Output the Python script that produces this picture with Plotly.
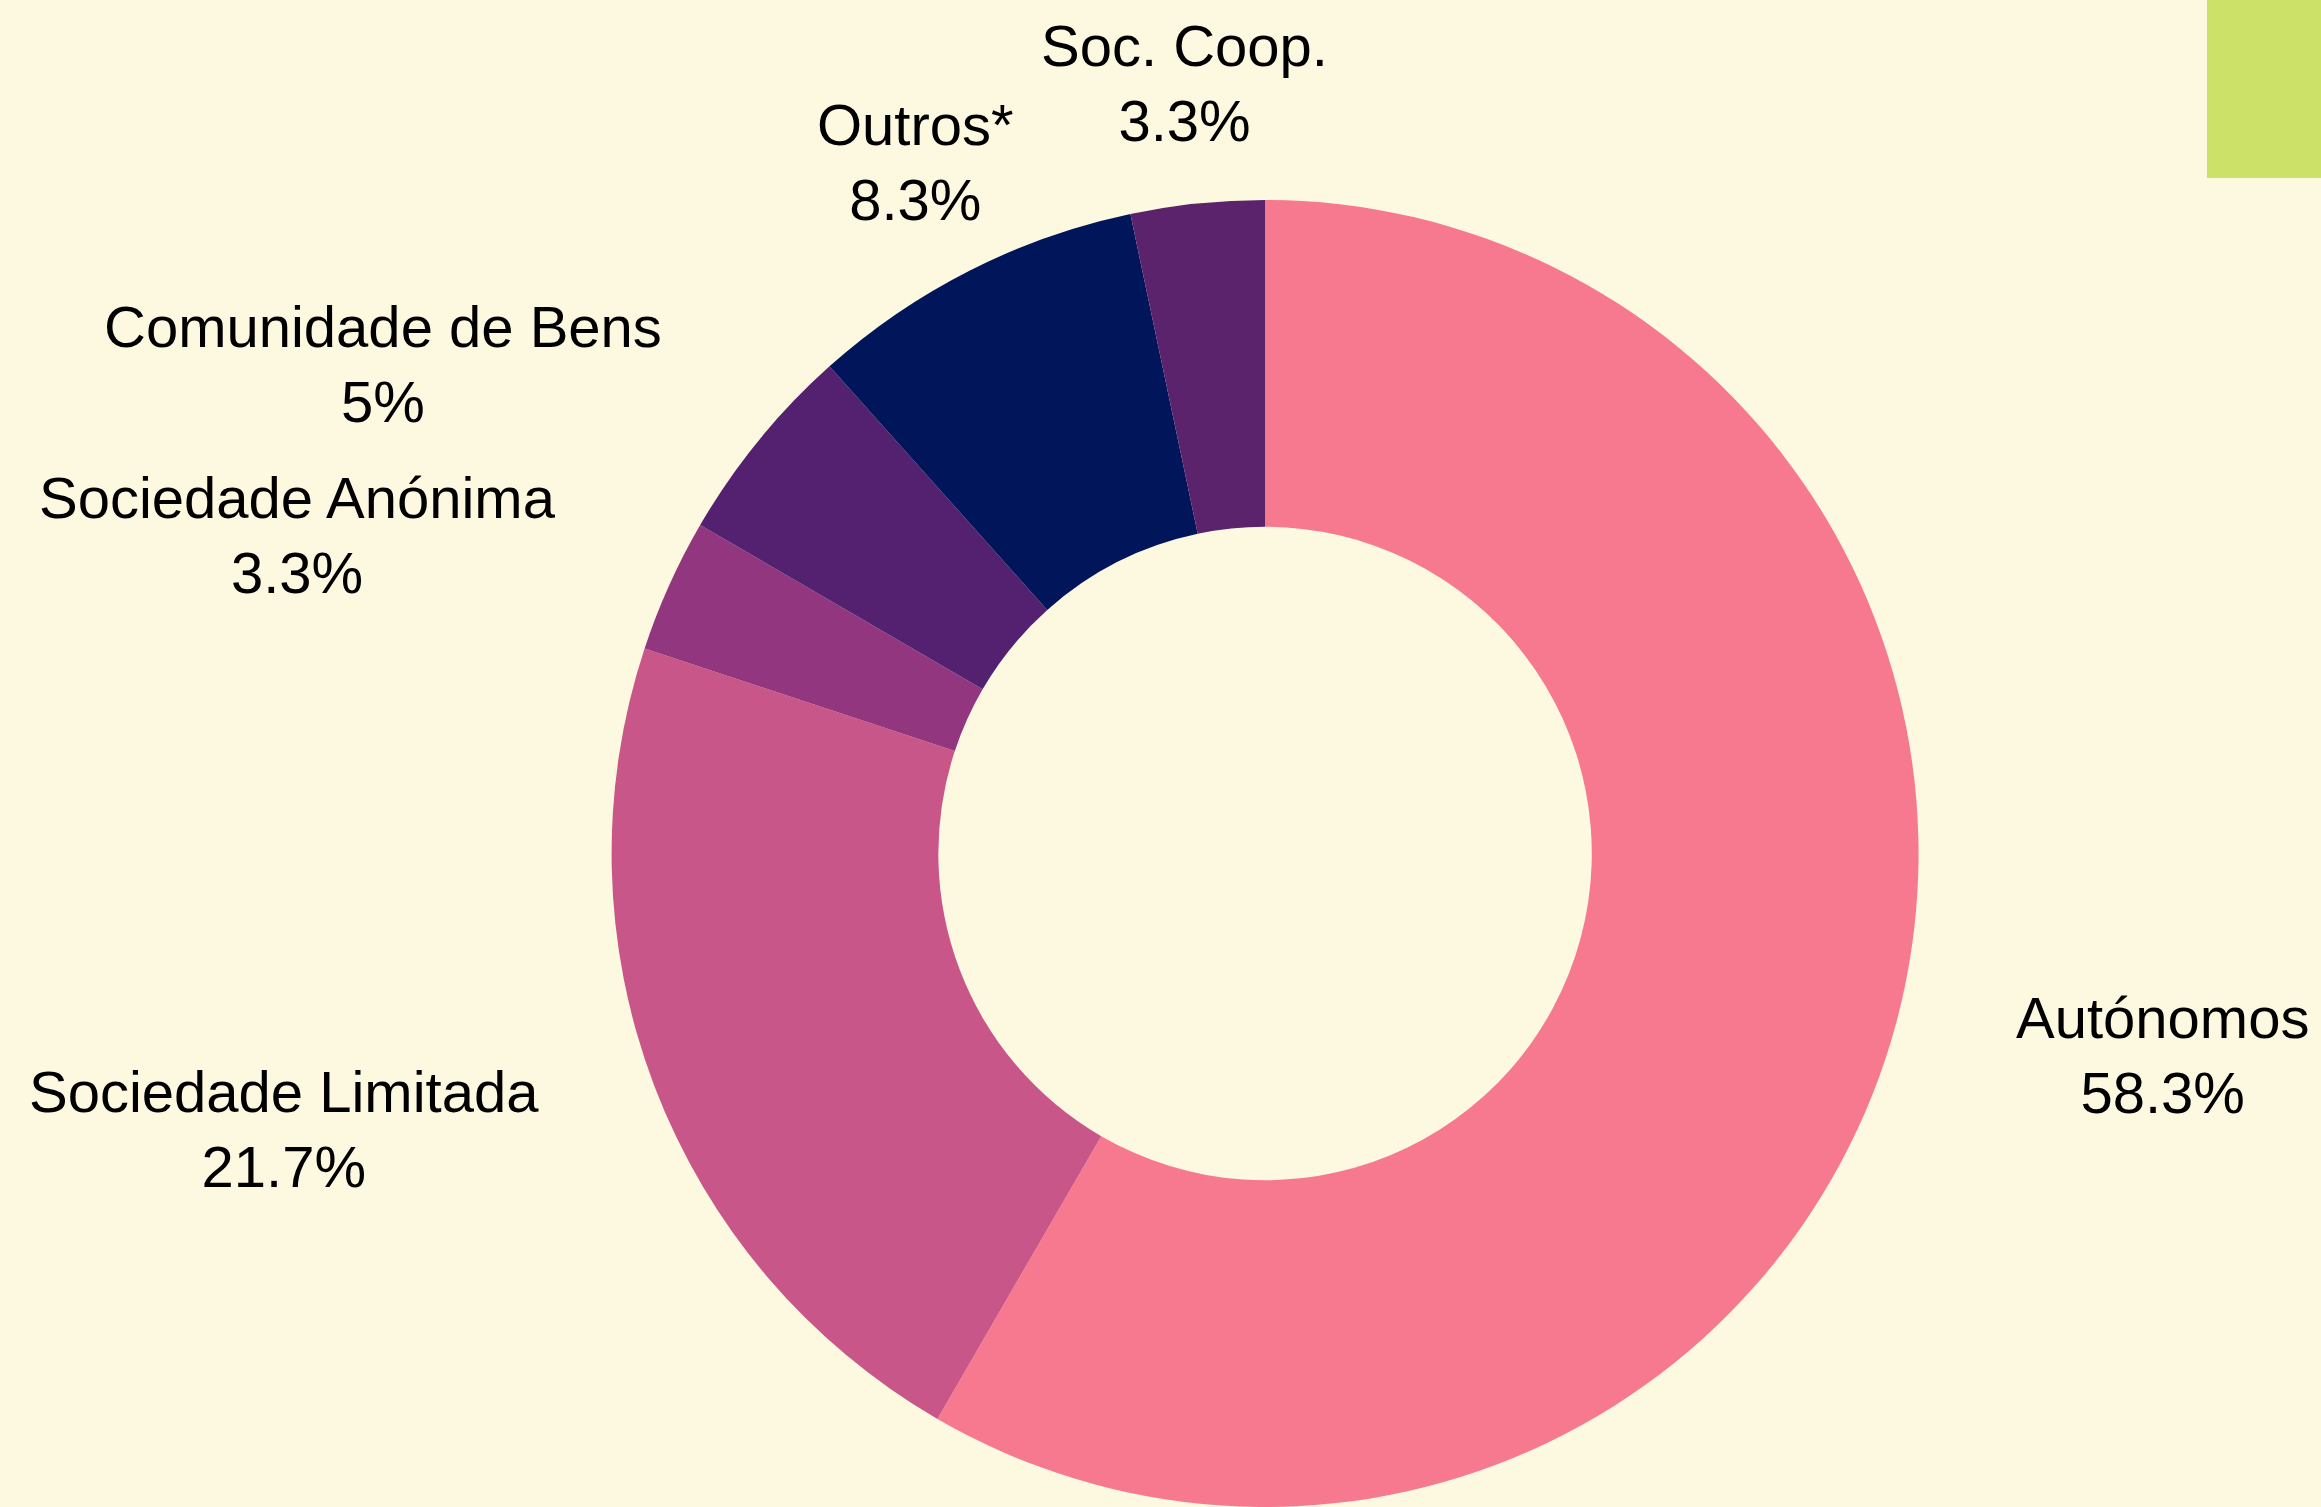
import math
import plotly.graph_objects as go

# share of companies by legal form (%)
labels = ["Autónomos", "Sociedade Limitada", "Sociedade Anónima",
          "Comunidade de Bens", "Outros*", "Soc. Coop."]
values = [58.3, 21.7, 3.3, 5, 8.3, 3.3]
colors = ["#F7798F", "#C95689", "#92367F", "#53216F", "#00155A", "#5A236B"]

W, H = 2321, 1507
FONT = dict(family="Liberation Sans, Arial, sans-serif", size=58, color="black")

# donut geometry (paper coords, margins are 0)
dom_x = [0.2635, 0.8266]
dom_y = [0, 1 - 200 / H]
cx = sum(dom_x) / 2
cy = sum(dom_y) / 2
r_px = (dom_y[1] - dom_y[0]) * H / 2
label_r = 1.186 * r_px

trace = go.Pie(
  labels=labels,
  values=values,
  hole=0.5,
  sort=False,
  direction="clockwise",
  rotation=0,
  marker=dict(colors=colors, line=dict(width=0)),
  textinfo="none",
  hoverinfo="label+value",
  domain=dict(x=dom_x, y=dom_y),
  showlegend=False,
)

# outside labels, placed at each slice's mid angle
annotations = []
total = sum(values)
cum = 0
for lab, val in zip(labels, values):
  mid = (cum + val / 2) / total * 2 * math.pi
  cum += val
  sx, sy = math.sin(mid), math.cos(mid)
  if abs(sx) < 0.6:
    anchor = "center"
  else:
    anchor = "left" if sx > 0 else "right"
  annotations.append(dict(
    x=cx + label_r * sx / W, y=cy + label_r * sy / H,
    xref="paper", yref="paper",
    text=f"{lab}<br>{val:g}%",
    showarrow=False, xanchor=anchor, yanchor="middle", align="center",
    font=FONT,
  ))

layout = go.Layout(
  width=W,
  height=H,
  margin=dict(t=0, b=0, l=0, r=0),
  paper_bgcolor="#FDF8E0",
  plot_bgcolor="#FDF8E0",
  annotations=annotations,
  shapes=[dict(type="rect", xref="paper", yref="paper",
               x0=2207 / W, x1=1, y0=1 - 178 / H, y1=1,
               fillcolor="#CBE168", line=dict(width=0))],
)

fig = go.Figure(data=[trace], layout=layout)
# drop the default body margin so the figure sits flush in the window
fig.write_html("out.html", config={"displayModeBar": False},
               post_script="document.body.style.margin='0';document.body.style.overflow='hidden';")
